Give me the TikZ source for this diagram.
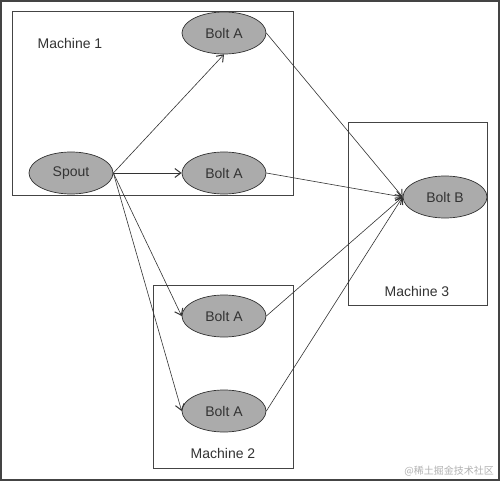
\documentclass[tikz,border=0pt]{standalone}
\usepackage{fontspec}
\setmainfont{Liberation Sans}
\newfontfamily\cjk{Noto Sans CJK SC}
\usetikzlibrary{arrows.meta,shapes.geometric}
\definecolor{ink}{HTML}{333333}
\definecolor{boxline}{HTML}{444444}
\definecolor{ellfill}{HTML}{ABABAB}
\tikzset{
  comp/.style={ellipse, draw=ink, fill=ellfill, line width=0.7pt, minimum width=84pt, minimum height=42pt, inner sep=0pt, font=\fontsize{14pt}{16pt}\selectfont, text=ink},
  machine/.style={draw=boxline, line width=0.8pt},
  mlabel/.style={font=\fontsize{14pt}{16pt}\selectfont, text=ink, inner sep=0pt},
  flow/.style={draw=ink, line width=0.6pt, -{Straight Barb[length=6pt,width=9pt,line width=1pt]}},
}
\begin{document}
\begin{tikzpicture}[x=1pt,y=-1pt]
\fill[white] (0,0) rectangle (500,481);
\useasboundingbox (0,0) rectangle (500,481);
\draw[boxline, line width=2pt] (1,1) rectangle (499,480);
% machines
\draw[machine] (12,11) rectangle (293,195);
\draw[machine] (348,122) rectangle (487,305);
\draw[machine] (153,285) rectangle (293,468);
\node[mlabel] (m1) at (70,43) {Machine 1};
\node[mlabel] (m3) at (417,291) {Machine 3};
\node[mlabel] (m2) at (223,453) {Machine 2};
% components
\node[comp] (spout) at (71,173) {Spout};
\node[comp] (a1) at (224,33) {Bolt A};
\node[comp] (a2) at (224,173) {Bolt A};
\node[comp] (a3) at (224,316) {Bolt A};
\node[comp] (a4) at (224,411) {Bolt A};
\node[comp] (b) at (445,197) {Bolt B};
% connectors
\draw[flow] (spout.east) -- (a1.south);
\draw[flow] (spout.east) -- (a2.west);
\draw[flow] (spout.east) -- (a3.west);
\draw[flow] (spout.east) -- (a4.west);
\draw[flow] (a1.east) -- (b.west);
\draw[flow] (a2.east) -- (b.west);
\draw[flow] (a3.east) -- (b.west);
\draw[flow] (a4.east) -- (b.west);
% watermark
\node[font=\cjk\fontsize{10pt}{12pt}\selectfont, text=black!30, anchor=east, inner sep=0pt] (wm) at (494,471) {@稀土掘金技术社区};
\end{tikzpicture}
\end{document}
